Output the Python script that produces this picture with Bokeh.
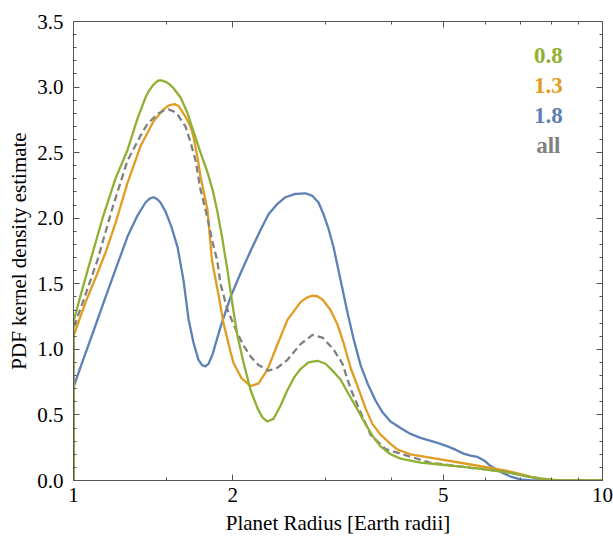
from bokeh.plotting import figure
from bokeh.models import (FixedTicker, LogAxis, LinearAxis, PrintfTickFormatter,
                          Label)
from bokeh.embed import file_html
from bokeh.resources import INLINE

# ---------------- data ----------------
green_x = [1.000, 1.000, 1.031, 1.077, 1.135, 1.200, 1.265, 1.321, 1.368, 1.390,
           1.411, 1.430, 1.448, 1.470, 1.493, 1.515, 1.539, 1.594, 1.643, 1.686,
           1.738, 1.792, 1.831, 1.871, 1.912, 1.955, 1.998, 2.042, 2.096, 2.161,
           2.228, 2.277, 2.326, 2.388, 2.462, 2.538, 2.617, 2.686, 2.781, 2.892,
           2.995, 3.101, 3.197, 3.311, 3.443, 3.565, 3.691, 3.805, 3.974, 4.152,
           4.529, 4.877, 5.274, 5.631, 6.145, 6.701, 7.309, 7.973, 8.327, 10.0]
green_y = [0.00, 1.21, 1.41, 1.68, 2.00, 2.30, 2.52, 2.76, 2.92, 2.975,
           3.01, 3.035, 3.05, 3.05, 3.04, 3.025, 3.00, 2.92, 2.80, 2.66,
           2.50, 2.35, 2.22, 2.05, 1.84, 1.60, 1.34, 1.10, 0.90, 0.69,
           0.55, 0.48, 0.45, 0.47, 0.57, 0.69, 0.79, 0.85, 0.90, 0.913,
           0.89, 0.83, 0.77, 0.66, 0.54, 0.43, 0.33, 0.26, 0.20, 0.167,
           0.137, 0.124, 0.110, 0.098, 0.080, 0.058, 0.025, 0.005, 0.0, 0.0]

orange_x = [1.000, 1.000, 1.054, 1.110, 1.150, 1.200, 1.265, 1.339, 1.417, 1.479,
            1.515, 1.552, 1.580, 1.601, 1.630, 1.664, 1.686, 1.716, 1.738, 1.792,
            1.827, 1.879, 1.921, 1.981, 2.007, 2.078, 2.161, 2.238, 2.326, 2.420,
            2.538, 2.686, 2.760, 2.830, 2.890, 2.956, 3.061, 3.155, 3.239, 3.340,
            3.443, 3.565, 3.675, 3.805, 3.974, 4.098, 4.336, 4.877, 5.631, 6.145,
            6.701, 7.309, 7.634, 8.327, 10.0]
orange_y = [0.00, 1.10, 1.36, 1.58, 1.74, 1.96, 2.27, 2.55, 2.74, 2.83,
            2.86, 2.87, 2.855, 2.82, 2.77, 2.70, 2.62, 2.46, 2.32, 2.06,
            1.68, 1.42, 1.20, 0.98, 0.895, 0.78, 0.72, 0.74, 0.845, 1.02,
            1.225, 1.36, 1.395, 1.41, 1.405, 1.38, 1.30, 1.19, 1.05, 0.86,
            0.72, 0.55, 0.43, 0.35, 0.28, 0.236, 0.20, 0.165, 0.122, 0.097,
            0.068, 0.030, 0.015, 0.0, 0.0]

blue_x = [1.000, 1.000, 1.031, 1.091, 1.150, 1.211, 1.265, 1.321, 1.368, 1.393,
          1.417, 1.440, 1.460, 1.493, 1.530, 1.573, 1.615, 1.650, 1.686, 1.723,
          1.750, 1.776, 1.800, 1.831, 1.896, 1.981, 2.069, 2.161, 2.257, 2.337,
          2.430, 2.516, 2.628, 2.745, 2.830, 2.905, 2.969, 3.034, 3.101, 3.197,
          3.296, 3.384, 3.489, 3.596, 3.723, 3.838, 3.974, 4.152, 4.336, 4.529,
          4.877, 5.094, 5.274, 5.462, 5.631, 5.806, 5.986, 6.145, 6.416, 6.701,
          6.999, 7.309, 10.0]
blue_y = [0.00, 0.71, 0.865, 1.14, 1.40, 1.65, 1.86, 2.02, 2.12, 2.15,
          2.16, 2.145, 2.12, 2.05, 1.94, 1.78, 1.52, 1.23, 1.05, 0.92,
          0.88, 0.87, 0.89, 0.96, 1.17, 1.40, 1.58, 1.75, 1.91, 2.03,
          2.11, 2.16, 2.185, 2.19, 2.17, 2.12, 2.03, 1.92, 1.78, 1.53,
          1.28, 1.08, 0.88, 0.74, 0.61, 0.52, 0.45, 0.40, 0.355, 0.325,
          0.287, 0.26, 0.235, 0.205, 0.19, 0.18, 0.15, 0.11, 0.065, 0.030,
          0.008, 0.0, 0.0]

all_x = [1.000, 1.000, 1.054, 1.110, 1.185, 1.265, 1.339, 1.380, 1.448, 1.480,
         1.512, 1.545, 1.573, 1.628, 1.664, 1.701, 1.738, 1.792, 1.831, 1.869,
         1.896, 1.955, 2.042, 2.096, 2.161, 2.238, 2.337, 2.430, 2.538, 2.686,
         2.830, 2.956, 3.101, 3.225, 3.340, 3.489, 3.643, 3.888, 4.206, 4.730,
         5.631, 6.145, 6.701, 7.309, 7.973, 8.327, 10.0]
all_y = [0.00, 1.16, 1.42, 1.68, 2.08, 2.44, 2.63, 2.72, 2.80, 2.82,
         2.83, 2.815, 2.79, 2.70, 2.58, 2.44, 2.22, 2.00, 1.82, 1.68,
         1.50, 1.30, 1.12, 1.03, 0.946, 0.88, 0.837, 0.86, 0.92, 1.04,
         1.11, 1.09, 1.00, 0.89, 0.70, 0.52, 0.35, 0.24, 0.198, 0.135,
         0.097, 0.080, 0.058, 0.025, 0.005, 0.0, 0.0]

legend_labels = ["0.8", "1.3", "1.8", "all"]

x_major = [1, 2, 5, 10]
x_minor = [1.5, 3, 4, 6, 7, 8, 9]
y_major = [0.0, 0.5, 1.0, 1.5, 2.0, 2.5, 3.0, 3.5]
y_minor = [0.1, 0.2, 0.3, 0.4, 0.6, 0.7, 0.8, 0.9, 1.1, 1.2, 1.3, 1.4,
           1.6, 1.7, 1.8, 1.9, 2.1, 2.2, 2.3, 2.4, 2.6, 2.7, 2.8, 2.9,
           3.1, 3.2, 3.3, 3.4]

# ---------------- styling ----------------
BLUE = "#5E81B5"
ORANGE = "#E19C24"
GREEN = "#8FB032"
GRAY = "#808080"
AXIS = "#555555"
FONT = "Liberation Serif"

p = figure(width=613, height=537, x_axis_type="log", x_range=(1, 10),
           y_range=(0, 3.5), output_backend="svg", toolbar_location=None,
           min_border_left=73, min_border_right=11, min_border_top=21,
           min_border_bottom=56, background_fill_color="white",
           border_fill_color="white")
p.outline_line_color = None
p.xgrid.visible = False
p.ygrid.visible = False


def style_axis(ax, labels=True):
    ax.axis_line_color = AXIS
    ax.axis_line_width = 1
    ax.major_tick_line_color = AXIS
    ax.minor_tick_line_color = AXIS
    ax.major_tick_in = 6
    ax.major_tick_out = 0
    ax.minor_tick_in = 3
    ax.minor_tick_out = 0
    ax.major_label_text_font = FONT
    ax.axis_label_text_font = FONT
    ax.axis_label_text_font_style = "normal"
    ax.axis_label_text_color = "black"
    if labels:
        ax.major_label_text_color = "black"
        ax.major_label_text_font_size = "21px"
        ax.axis_label_text_font_size = "21px"
    else:
        # frame side: ticks only, no tick labels drawn
        ax.major_label_text_color = None
        ax.major_label_text_font_size = "1px"
        ax.major_label_standoff = 0


xt = FixedTicker(ticks=x_major, minor_ticks=x_minor)
yt = FixedTicker(ticks=y_major, minor_ticks=y_minor)

xa = p.xaxis[0]
xa.ticker = xt
xa.formatter = PrintfTickFormatter(format="%d")
xa.axis_label = "Planet Radius [Earth radii]"
style_axis(xa)
xa.major_label_standoff = 7
xa.axis_label_standoff = 6

ya = p.yaxis[0]
ya.ticker = yt
ya.formatter = PrintfTickFormatter(format="%.1f")
ya.axis_label = "PDF kernel density estimate"
style_axis(ya)
ya.major_label_standoff = 10
ya.axis_label_standoff = 3

top = LogAxis(ticker=FixedTicker(ticks=x_major, minor_ticks=x_minor))
style_axis(top, labels=False)
p.add_layout(top, "above")
right = LinearAxis(ticker=FixedTicker(ticks=y_major, minor_ticks=y_minor))
style_axis(right, labels=False)
p.add_layout(right, "right")

# ---------------- curves ----------------
p.line(blue_x, blue_y, line_color=BLUE, line_width=2.3, line_join="round")
p.line(orange_x, orange_y, line_color=ORANGE, line_width=2.3, line_join="round")
p.line(all_x, all_y, line_color=GRAY, line_width=2.3, line_dash="7 4")
p.line(green_x, green_y, line_color=GREEN, line_width=2.3, line_join="round")

# ---------------- legend (coloured text) ----------------
leg_y = [3.24, 3.01, 2.785, 2.555]
leg_c = [GREEN, ORANGE, BLUE, GRAY]
for txt, yy, cc in zip(legend_labels, leg_y, leg_c):
    p.add_layout(Label(x=7.9, y=yy, text=txt, text_align="center",
                       text_baseline="middle", text_font=FONT,
                       text_font_style="bold", text_font_size="23px",
                       text_color=cc))

open("out.html", "w").write(file_html(p, INLINE))
